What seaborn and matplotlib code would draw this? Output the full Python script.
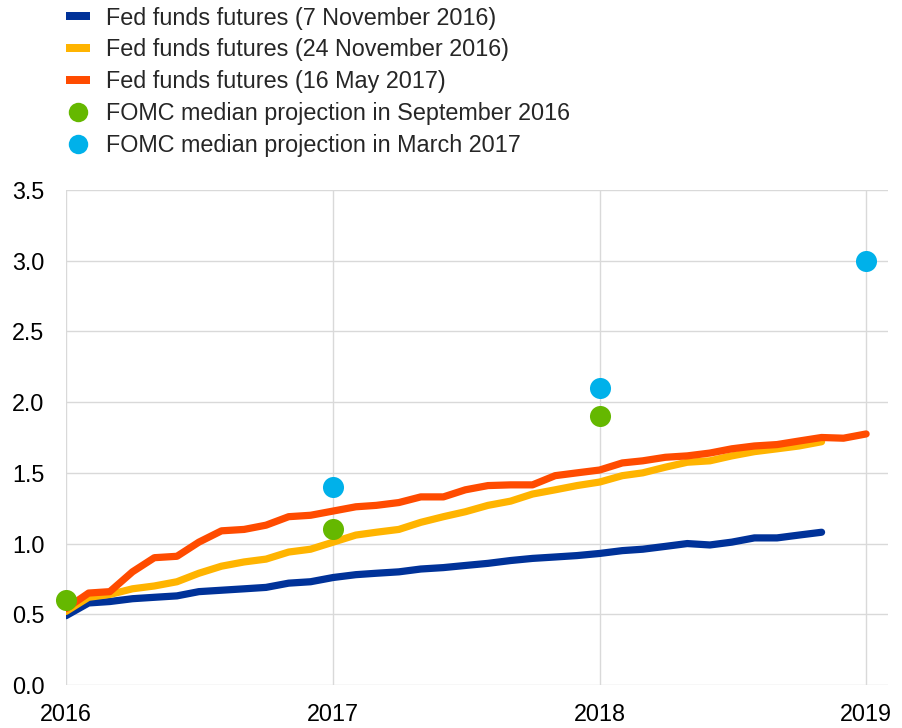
import pandas as pd
import matplotlib
matplotlib.use('Agg')
import matplotlib.pyplot as plt
import matplotlib.dates as mdates
import seaborn as sns
from matplotlib.lines import Line2D

# Monthly fed funds futures curves (percent)
futures_nov7_2016 = [0.49, 0.58, 0.59, 0.61, 0.62, 0.63, 0.66, 0.67, 0.68, 0.69, 0.72, 0.73,
                     0.76, 0.78, 0.79, 0.80, 0.82, 0.83, 0.845, 0.86, 0.88, 0.895, 0.905, 0.915,
                     0.93, 0.95, 0.96, 0.98, 1.00, 0.99, 1.01, 1.04, 1.04, 1.06, 1.08]
futures_nov24_2016 = [0.52, 0.62, 0.64, 0.68, 0.70, 0.73, 0.79, 0.84, 0.87, 0.89, 0.94, 0.96,
                      1.01, 1.06, 1.08, 1.10, 1.15, 1.19, 1.225, 1.27, 1.30, 1.35, 1.38, 1.41,
                      1.435, 1.48, 1.50, 1.54, 1.575, 1.585, 1.62, 1.65, 1.67, 1.69, 1.72]
futures_may16_2017 = [0.54, 0.65, 0.66, 0.80, 0.90, 0.91, 1.01, 1.09, 1.10, 1.13, 1.19, 1.20,
                      1.23, 1.26, 1.27, 1.29, 1.33, 1.33, 1.38, 1.41, 1.415, 1.415, 1.48, 1.50,
                      1.52, 1.57, 1.585, 1.61, 1.62, 1.64, 1.67, 1.69, 1.70, 1.725, 1.75, 1.745, 1.775]

# FOMC median projections (end of year)
fomc_sep2016_dates = ['2016-01-01', '2017-01-01', '2018-01-01']
fomc_sep2016 = [0.6, 1.1, 1.9]
fomc_mar2017_dates = ['2017-01-01', '2018-01-01', '2019-01-01']
fomc_mar2017 = [1.4, 2.1, 3.0]

labels = ['Fed funds futures (7 November 2016)',
          'Fed funds futures (24 November 2016)',
          'Fed funds futures (16 May 2017)',
          'FOMC median projection in September 2016',
          'FOMC median projection in March 2017']
colors = ['#003299', '#FFB400', '#FF4B00', '#65B800', '#00B1EA']

sns.set_style('white')
plt.rcParams['font.family'] = ['Liberation Sans', 'DejaVu Sans']

fig = plt.figure(figsize=(9.03, 7.28), dpi=100)
ax = fig.add_axes([0.0731, 0.0591, 0.9103, 0.6799])

series = [futures_nov7_2016, futures_nov24_2016, futures_may16_2017]
for i, (vals, col) in enumerate(zip(series, colors[:3])):
    df = pd.DataFrame({'date': pd.date_range('2016-01-01', periods=len(vals), freq='MS'),
                       'rate': vals})
    sns.lineplot(data=df, x='date', y='rate', color=col, linewidth=5.2, ax=ax,
                 solid_capstyle='round', solid_joinstyle='round', zorder=3 + i)

for dts, vals, col in [(fomc_sep2016_dates, fomc_sep2016, colors[3]),
                       (fomc_mar2017_dates, fomc_mar2017, colors[4])]:
    df = pd.DataFrame({'date': pd.to_datetime(dts), 'rate': vals})
    sns.scatterplot(data=df, x='date', y='rate', color=col, s=230, linewidth=0,
                    ax=ax, zorder=10, clip_on=False)

ax.set_ylim(0, 3.5)
ax.set_yticks([0, 0.5, 1.0, 1.5, 2.0, 2.5, 3.0, 3.5])
ax.set_yticklabels(['0.0', '0.5', '1.0', '1.5', '2.0', '2.5', '3.0', '3.5'])
ax.set_xlim(pd.Timestamp('2016-01-01'), pd.Timestamp('2019-01-31'))
ax.xaxis.set_major_locator(mdates.YearLocator())
ax.xaxis.set_major_formatter(mdates.DateFormatter('%Y'))
ax.set_xlabel('')
ax.set_ylabel('')
ax.grid(True, color='#d9d9d9', linewidth=1)
ax.set_axisbelow(True)
for s in ax.spines.values():
    s.set_visible(False)
ax.tick_params(axis='both', length=0, labelsize=16.8, colors='#000000')
ax.tick_params(axis='y', pad=15.5)
ax.tick_params(axis='x', pad=13)

handles = [Line2D([0], [0], color=c, linewidth=5.75, solid_capstyle='butt') for c in colors[:3]]
handles += [Line2D([0], [0], marker='o', color='w', markerfacecolor=c, markeredgewidth=0,
                   markersize=14) for c in colors[3:]]
fig.legend(handles=handles, labels=labels, loc='upper left', bbox_to_anchor=(0.0731, 0.991),
           frameon=False, fontsize=16.8, handlelength=1.03, handletextpad=0.69,
           labelspacing=0.38, borderpad=0, borderaxespad=0)

fig.savefig('out.png', dpi=100)
